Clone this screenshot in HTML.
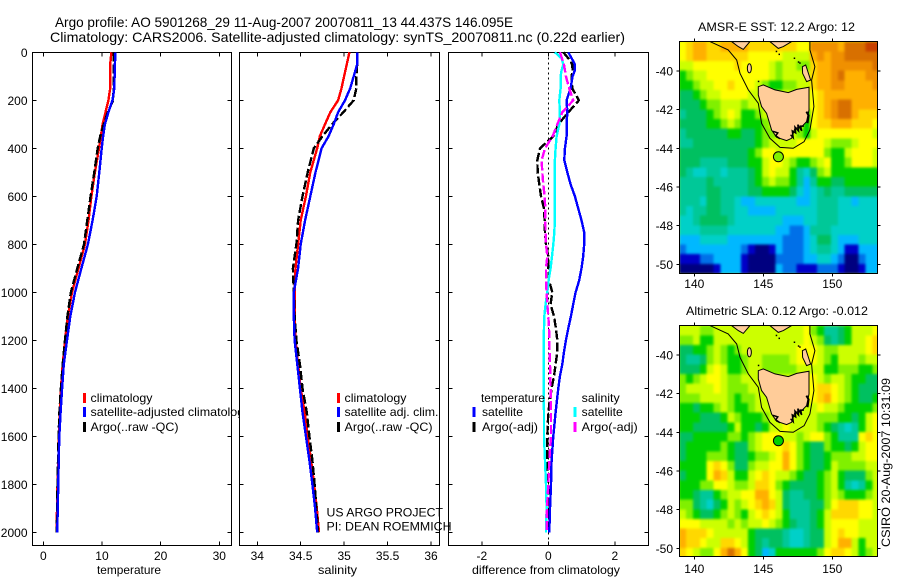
<!DOCTYPE html>
<html lang="en">
<head>
<meta charset="utf-8">
<title>Argo profile chart</title>
<style>
html,body{margin:0;padding:0;background:#fff;}
svg{display:block;}
text{font-family:"Liberation Sans",sans-serif;font-size:12px;fill:#000;}
.ttl{font-size:14px;}
</style>
</head>
<body>
<svg id="chart" width="900" height="580" viewBox="0 0 900 580" xmlns="http://www.w3.org/2000/svg">
<defs>
<filter id="cell-smooth" x="-5%" y="-5%" width="110%" height="110%" color-interpolation-filters="sRGB"><feGaussianBlur stdDeviation="1.3" edgeMode="duplicate"/></filter>
<clipPath id="temp-legend-clip"><rect x="0" y="380" width="239" height="60"/></clipPath>
</defs>
<rect x="0" y="0" width="900" height="580" fill="#fff"/>
<text class="ttl" x="55" y="27" textLength="458" lengthAdjust="spacingAndGlyphs">Argo profile: AO 5901268_29 11-Aug-2007 20070811_13 44.437S 146.095E</text>
<text class="ttl" x="50" y="42" textLength="575" lengthAdjust="spacingAndGlyphs">Climatology: CARS2006. Satellite-adjusted climatology: synTS_20070811.nc (0.22d earlier)</text>
<text x="698" y="31" textLength="157" lengthAdjust="spacingAndGlyphs">AMSR-E SST: 12.2 Argo: 12</text>
<text x="686" y="315" textLength="182" lengthAdjust="spacingAndGlyphs">Altimetric SLA: 0.12 Argo: -0.012</text>
<text transform="translate(890,547) rotate(-90)" x="0" y="0" textLength="169" lengthAdjust="spacingAndGlyphs">CSIRO 20-Aug-2007 10:31:09</text>
<g id="panels"></g>
<g id="maps"></g>
<g id="overlay"></g>
</svg>
<script>
const depths = [0,50,100,150,200,250,300,350,400,500,600,700,800,900,1000,1100,1200,1300,1400,1500,1600,1700,1800,1900,2000];
const tempClim = [11.6,11.4,11.4,11.4,11.1,10.6,10.1,9.8,9.5,8.8,8.2,7.7,7.1,6.0,4.9,4.2,3.7,3.3,3.0,2.8,2.67,2.55,2.42,2.33,2.28];
const tempSatAdj = [12.3,12.2,12.15,12.1,11.8,11.1,10.5,10.2,9.95,9.55,9.1,8.4,7.6,6.5,5.4,4.6,4.04,3.5,3.2,2.95,2.73,2.62,2.55,2.45,2.38];
const tempArgoRaw = [12.0,12.0,12.0,12.0,11.9,11.0,10.3,9.7,9.27,8.7,8.07,7.5,6.93,5.8,4.7,4.1,3.7,3.3,3.0,2.75,2.6,2.5,2.42,2.35,2.3];
const salClim = [35.06,35.03,35.0,34.97,34.93,34.84,34.78,34.72,34.69,34.61,34.56,34.5,34.47,34.44,34.43,34.43,34.44,34.47,34.5,34.546,34.58,34.62,34.654,34.685,34.71];
const salSatAdj = [35.15,35.15,35.11,35.07,35.01,34.93,34.88,34.82,34.74,34.67,34.61,34.55,34.5,34.47,34.42,34.42,34.43,34.46,34.49,34.52,34.56,34.6,34.635,34.665,34.69];
const salArgoRaw = [35.15,35.15,35.14,35.14,35.11,34.99,34.86,34.75,34.65,34.58,34.52,34.47,34.45,34.41,34.42,34.43,34.45,34.49,34.52,34.57,34.6,34.635,34.66,34.68,34.7];
const diffDepths = [0,25,50,75,100,150,200,250,300,350,400,450,500,550,600,650,700,750,800,850,900,950,1000,1050,1100,1150,1200,1250,1300,1350,1400,1500,1600,1700,1800,1900,2000];
const diffTempSat = [.6,.7,.8,.8,.73,.67,.55,.57,.55,.55,.5,.48,.57,.67,.8,.9,1.0,1.08,1.08,1.05,1.0,.93,.82,.75,.68,.6,.53,.47,.42,.35,.3,.22,.15,.1,.08,.05,.03];
const diffTempArgo = [.45,.6,.72,.73,.7,.72,.92,.6,.3,.15,-.25,-.33,-.32,-.27,-.22,-.13,-.11,-.1,-.07,0,0,.02,.12,.07,.17,.23,.27,.27,.22,.17,.1,0,-.03,-.03,.01,.03,.03];
const diffSalSat = [.2,.4,.45,.4,.37,.37,.33,.35,.33,.25,.22,.2,.19,.2,.2,.2,.2,.18,.15,.11,.07,.01,-.03,-.08,-.12,-.13,-.14,-.14,-.14,-.14,-.14,-.13,-.13,-.1,-.07,-.05,-.07];
const diffSalArgo = [.35,.41,.47,.5,.53,.63,.75,.42,.27,.13,-.1,-.2,-.18,-.15,-.11,-.09,-.09,-.08,-.07,-.03,-.07,-.07,-.05,-.03,0,.02,.03,.04,.05,.06,.07,.08,.08,.03,0,-.04,-.05];
const depthTicks = [0,200,400,600,800,1000,1200,1400,1600,1800,2000];
const tempTicks = [0,10,20,30];
const salTicks = [34,34.5,35,35.5,36];
const diffTicks = [-2,0,2];
const lonTicks = [140,145,150];
const latTicks = [-40,-42,-44,-46,-48,-50];
const sstGrid = [
[10,11,12,12,11,11,12,12,12,12,11,11,11,11,11,11,11,10,10,13,13,13,13,12,14,14,14,15,15],
[10,11,12,12,11,11,11,11,11,11,10,10,10,10,10,9,9,9,9,12,13,12,13,13,14,14,14,14,14],
[9,9,10,10,10,10,10,10,11,10,10,10,10,9,8,9,9,8,8,11,12,12,13,13,13,13,13,13,14],
[7,8,9,9,10,10,10,10,10,10,10,10,10,9,8,9,9,9,9,11,12,12,13,14,12,12,12,13,13],
[7,7,8,9,9,10,10,11,10,10,10,9,8,7,7,8,8,9,9,11,12,12,13,13,12,12,12,12,13],
[6,6,7,8,9,9,10,10,10,10,9,9,9,9,9,9,9,9,9,10,11,12,12,12,12,12,12,12,12],
[6,6,6,7,8,8,9,9,9,8,9,9,9,9,9,9,9,9,9,10,11,12,13,14,14,12,12,12,12],
[5,6,6,6,7,8,9,10,9,7,7,8,9,9,9,9,9,9,7,10,11,12,13,14,14,12,11,11,11],
[6,6,6,6,7,7,8,9,8,7,7,7,8,9,9,9,9,9,7,10,11,11,12,12,12,11,11,11,10],
[5,6,6,6,6,6,6,7,7,6,6,7,8,8,9,9,9,8,7,9,10,10,10,10,10,10,10,10,9],
[5,5,6,6,6,6,6,6,6,6,6,7,8,9,9,9,9,10,10,10,10,9,8,8,8,9,10,10,10],
[6,6,6,6,6,6,6,6,6,6,7,8,10,10,9,10,10,10,10,10,10,8,7,7,9,10,10,10,9],
[6,6,6,5,5,5,5,6,6,6,7,7,9,10,10,9,8,7,7,8,9,10,7,7,8,10,10,10,9],
[6,5,4,4,5,5,4,5,5,5,6,7,9,10,9,9,7,5,4,6,8,9,7,7,7,7,7,7,7],
[5,5,5,5,6,5,5,5,5,5,6,7,8,9,8,8,7,5,3,5,7,7,6,6,7,7,7,7,7],
[5,5,5,5,6,6,5,5,5,5,6,6,7,7,7,7,6,4,3,4,5,6,5,5,6,6,6,6,6],
[5,5,5,4,6,6,5,5,4,3,3,4,4,4,4,4,4,3,3,4,5,5,5,4,4,3,4,4,4],
[5,4,5,5,6,6,5,5,4,4,3,3,3,3,4,4,4,4,4,4,5,5,5,4,4,4,4,4,4],
[4,4,5,6,6,6,6,5,4,4,4,4,4,4,4,3,3,3,4,4,5,5,5,4,4,4,4,4,4],
[4,4,4,5,5,5,5,4,4,4,4,4,4,4,3,3,2,2,3,5,5,5,4,4,4,4,4,4,4],
[3,3,3,4,4,4,4,3,3,3,3,3,3,3,3,2,2,2,3,4,6,6,4,3,3,3,4,4,4],
[2,3,3,3,3,3,3,3,3,2,1,0,0,1,3,2,2,2,3,4,5,5,4,3,1,1,3,3,3],
[1,1,1,2,2,3,3,3,3,1,0,0,0,0,2,2,2,2,3,3,4,4,3,2,0,0,2,3,3],
[0,0,0,0,0,1,3,3,3,1,0,0,0,0,3,2,2,1,1,1,2,2,2,1,0,0,1,3,3]
];
const slaGrid = [
[9,9,9,8,8,9,9,9,9,9,9,9,9,9,9,9,9,9,10,8,7,5,5,6,7,9,9,9,10],
[8,8,9,7,7,9,9,9,9,9,9,9,9,9,9,9,9,9,10,9,8,6,5,6,7,9,9,10,11],
[6,6,7,7,8,9,8,7,8,9,9,9,9,9,9,9,9,10,10,10,9,8,8,9,9,9,9,10,11],
[6,5,5,6,8,9,8,7,7,8,9,9,8,8,8,8,9,10,10,10,9,8,7,9,9,9,8,9,9],
[6,6,6,7,9,10,9,7,7,8,9,9,8,8,8,8,8,9,9,9,9,7,7,8,8,8,7,7,8],
[8,7,8,9,10,10,9,8,8,9,9,9,9,9,9,9,9,9,10,10,9,8,9,9,8,7,7,6,6],
[8,9,9,9,9,10,9,8,8,8,9,9,9,9,9,9,9,9,10,10,11,11,10,9,8,7,6,6,6],
[8,8,8,9,9,9,9,8,7,8,8,9,9,9,9,9,9,9,10,10,11,12,10,9,8,7,6,6,7],
[7,7,6,7,7,8,9,8,7,7,8,9,9,9,9,9,9,9,9,9,10,9,9,8,7,7,7,7,8],
[7,7,7,6,6,6,7,9,8,7,7,7,8,9,9,9,9,9,9,9,8,8,8,7,7,6,7,9,10],
[7,7,6,6,6,6,6,7,9,7,7,6,7,9,9,10,9,9,9,9,8,7,6,5,4,5,7,9,10],
[6,6,7,7,7,7,7,8,8,7,8,9,10,10,10,9,9,8,9,10,10,8,7,5,5,5,10,11,10],
[6,7,7,7,7,7,8,7,6,6,8,9,10,10,10,11,10,8,7,6,6,8,7,7,6,7,9,10,10],
[6,7,7,7,8,8,8,7,6,6,7,8,8,9,10,12,10,8,7,6,6,7,8,8,8,9,9,10,10],
[7,7,7,7,10,11,10,8,6,6,8,9,9,10,10,12,10,8,7,6,6,7,9,8,8,8,8,9,9],
[6,7,7,7,10,12,11,9,7,7,9,10,11,10,9,9,8,7,6,6,7,8,9,7,6,6,6,8,9],
[7,7,7,8,8,10,10,9,8,8,9,11,11,10,8,7,6,6,6,6,7,8,9,7,5,4,5,7,9],
[7,7,6,5,5,7,8,9,9,10,10,12,12,10,9,6,5,5,6,6,7,8,9,8,7,7,7,8,9],
[8,8,6,5,4,6,7,9,8,9,10,11,12,11,9,6,5,5,5,6,6,8,10,11,11,11,10,10,9],
[9,8,7,6,6,7,8,9,8,7,9,10,11,10,9,7,5,5,5,6,7,9,11,11,11,11,10,10,9],
[10,10,10,9,9,9,9,8,9,8,9,9,10,9,8,7,6,5,5,6,7,9,10,10,10,10,9,9,9],
[12,11,11,11,10,9,9,9,9,9,7,6,6,6,6,5,4,4,5,6,6,9,10,11,10,10,9,9,9],
[12,11,11,10,9,9,11,11,10,9,7,6,5,6,6,5,4,4,5,6,6,9,10,12,12,9,7,9,9],
[11,10,9,8,8,10,12,14,12,10,7,6,3,4,7,7,7,7,7,7,8,10,11,11,10,9,7,8,9]
];
const levelColors = ['#000080','#0000c8','#0070e8','#00b8ff','#00d0c8','#00c898','#00c060','#00d000','#80f000','#ccff00','#ffff00','#ffd800','#ffb000','#f09000','#d87000','#c84000'];
const tasmaniaLon = [144.64,145.0,145.85,146.81,147.42,148.31,148.31,148.14,147.78,147.29,147.05,146.69,145.97,145.6,145.24,144.88,144.64];
const tasmaniaLat = [-40.81,-40.72,-40.98,-41.12,-40.95,-40.84,-42.02,-42.62,-42.88,-42.97,-43.48,-43.6,-43.43,-43.05,-42.19,-41.84,-41.24];
const otwayLon = [142.7,144.03,143.55,143.19];
const otwayLat = [-38.48,-38.48,-38.88,-38.74];
const wilsonsLon = [145.48,147.05,146.45,146.09];
const wilsonsLat = [-38.48,-38.48,-38.74,-38.83];
const flindersLon = [147.83,148.07,148.31,148.43,148.14,147.85];
const flindersLat = [-39.78,-39.69,-40.21,-40.47,-40.55,-40.12];
const seCoastLon = [146.98,147.17,147.1,147.35,147.3,147.55,147.5,147.78,147.7,147.94];
const seCoastLat = [-43.3,-43.45,-43.1,-43.2,-42.9,-43.1,-42.78,-43.1,-42.85,-42.85];
const swCoastLon = [145.7,146.05,145.9,146.2];
const swCoastLat = [-43.12,-43.2,-43.35,-43.5];
const eastCoastLon = [148.12,148.28,148.2];
const eastCoastLat = [-42.1,-42.3,-42.7];
const isletLon = [145.9,146.1,147.2,147.5,147.6,144.6];
const isletLat = [-38.95,-39.1,-39.3,-39.5,-39.55,-40.5];
const isobathLon = [141.14,142.46,143.07,143.31,143.91,144.64,144.88,145.48,146.21,147.17,147.96,148.38,148.67,148.5,148.74,148.38,148.38];
const isobathLat = [-38.48,-38.91,-39.43,-40.12,-40.98,-41.67,-42.71,-43.48,-43.95,-44.0,-43.66,-43.05,-41.84,-40.47,-39.78,-38.91,-38.48];
const floatLon = [146.095];
const floatLat = [-44.437];
const floatSstLevel = [8];
const floatSlaLevel = [7];

const NS = 'http://www.w3.org/2000/svg';
const panelsG = document.getElementById('panels');
const mapsG = document.getElementById('maps');
const overlayG = document.getElementById('overlay');
function make(tag, attrs, parent) {
  const e = document.createElementNS(NS, tag);
  for (const k in attrs) e.setAttribute(k, attrs[k]);
  parent.appendChild(e);
  return e;
}
const TOP = 52.5, BOTTOM = 545.5;
function yDepth(d) { return 52.3 + d * 0.24; }
function linScale(v0, p0, v1, p1) { return v => p0 + (v - v0) * (p1 - p0) / (v1 - v0); }
const xTemp = linScale(0, 43.3, 30, 219.3);
const xSal = linScale(34, 257.3, 36, 431);
const xDiff = linScale(0, 548.3, 2, 614.8);

function drawPanel(name, left, right, xScale, xTicks, showDepthLabels) {
  const frame = make('rect', {x:left, y:TOP, width:right-left, height:BOTTOM-TOP, fill:'#fff', stroke:'#000', 'stroke-width':1, 'shape-rendering':'crispEdges'}, panelsG);
  
  
  xTicks.forEach(t => {
    const x = xScale(t);
    const top = make('line', {x1:x, x2:x, y1:TOP, y2:TOP+4, stroke:'#000', 'shape-rendering':'crispEdges'}, panelsG);
    
    
    const bot = make('line', {x1:x, x2:x, y1:BOTTOM-4, y2:BOTTOM, stroke:'#000', 'shape-rendering':'crispEdges'}, panelsG);
    
    
    const lab = make('text', {x:x, y:560, 'text-anchor':'middle'}, panelsG);
    lab.textContent = String(t);
    
    
  });
  depthTicks.forEach(d => {
    const y = yDepth(d);
    const l = make('line', {x1:left, x2:left+4, y1:y, y2:y, stroke:'#000', 'shape-rendering':'crispEdges'}, panelsG);
    
    
    const r = make('line', {x1:right-4, x2:right, y1:y, y2:y, stroke:'#000', 'shape-rendering':'crispEdges'}, panelsG);
    
    
    if (showDepthLabels) {
      const lab = make('text', {x:27.5, y:y+4.5, 'text-anchor':'end'}, panelsG);
      lab.textContent = String(d);
      
      
    }
  });
}
function drawSeries(name, ds, vals, xScale, color, dashed) {
  const pts = ds.map((d, i) => xScale(vals[i]).toFixed(1) + ',' + yDepth(d).toFixed(1)).join(' ');
  const attrs = {points:pts, fill:'none', stroke:color, 'stroke-width':2.4, 'shape-rendering':'crispEdges'};
  if (dashed) attrs['stroke-dasharray'] = '9 3';
  const line = make('polyline', attrs, panelsG);
  
  
}
function legendEntry(name, tickX, textX, tickY, baseY, color, label, labelWidth, clipId) {
  if (color) {
    const t = make('rect', {x:tickX-1, y:tickY, width:3, height:10, fill:color, 'shape-rendering':'crispEdges'}, overlayG);
    
    
  }
  const attrs = {x:textX, y:baseY, textLength:labelWidth, lengthAdjust:'spacingAndGlyphs'};
  if (clipId) attrs['clip-path'] = 'url(#' + clipId + ')';
  const txt = make('text', attrs, overlayG);
  txt.textContent = label;
  
  
}

drawPanel('temperature-panel', 32.5, 231.5, xTemp, tempTicks, true);
drawSeries('temperature-climatology-line', depths, tempClim, xTemp, '#ff0000', false);
drawSeries('temperature-argo-line', depths, tempArgoRaw, xTemp, '#000000', true);
drawSeries('temperature-satellite-line', depths, tempSatAdj, xTemp, '#0000ff', false);
legendEntry('temp-legend-climatology', 84, 90.5, 393, 402, '#ff0000', 'climatology', 62);
legendEntry('temp-legend-satellite', 84, 90.5, 407, 416, '#0000ff', 'satellite-adjusted climatology', 160, 'temp-legend-clip');
legendEntry('temp-legend-argo', 84, 90.5, 422, 431, '#000000', 'Argo(..raw -QC)', 88);

const xlabelT = make('text', {x:97, y:574, textLength:64, lengthAdjust:'spacingAndGlyphs'}, panelsG);
xlabelT.textContent = 'temperature';


const xlabelS = make('text', {x:318, y:574, textLength:39, lengthAdjust:'spacingAndGlyphs'}, panelsG);
xlabelS.textContent = 'salinity';


const xlabelD = make('text', {x:472, y:574, textLength:148, lengthAdjust:'spacingAndGlyphs'}, panelsG);
xlabelD.textContent = 'difference from climatology';



drawPanel('salinity-panel', 239.5, 439.5, xSal, salTicks, false);
drawSeries('salinity-climatology-line', depths, salClim, xSal, '#ff0000', false);
drawSeries('salinity-argo-line', depths, salArgoRaw, xSal, '#000000', true);
drawSeries('salinity-satellite-line', depths, salSatAdj, xSal, '#0000ff', false);
legendEntry('sal-legend-climatology', 338, 344.5, 393, 402, '#ff0000', 'climatology', 62);
legendEntry('sal-legend-satellite', 338, 344.5, 407, 416, '#0000ff', 'satellite adj. clim.', 94);
legendEntry('sal-legend-argo', 338, 344.5, 422, 431, '#000000', 'Argo(..raw -QC)', 88);
legendEntry('project-credit', 0, 326.5, 0, 516.5, null, 'US ARGO PROJECT', 116.5);
legendEntry('pi-credit', 0, 326.5, 0, 530.5, null, 'PI: DEAN ROEMMICH', 125);

drawPanel('difference-panel', 448.5, 648.5, xDiff, diffTicks, false);
const zeroLine = make('line', {x1:xDiff(0), x2:xDiff(0), y1:TOP, y2:BOTTOM, stroke:'#000', 'stroke-dasharray':'2 3', 'shape-rendering':'crispEdges'}, panelsG);


drawSeries('difference-temp-argo-line', diffDepths, diffTempArgo, xDiff, '#000000', true);
drawSeries('difference-temp-satellite-line', diffDepths, diffTempSat, xDiff, '#0000ff', false);
drawSeries('difference-sal-satellite-line', diffDepths, diffSalSat, xDiff, '#00ffff', false);
drawSeries('difference-sal-argo-line', diffDepths, diffSalArgo, xDiff, '#ff00ff', true);
legendEntry('diff-legend-temperature-heading', 0, 481, 0, 402, null, 'temperature', 64);
legendEntry('diff-legend-temp-satellite', 473.7, 482, 407, 416, '#0000ff', 'satellite', 41);
legendEntry('diff-legend-temp-argo', 473.7, 482, 422, 431, '#000000', 'Argo(-adj)', 56);
legendEntry('diff-legend-salinity-heading', 0, 581.7, 0, 402, null, 'salinity', 38);
legendEntry('diff-legend-sal-satellite', 574.3, 581.7, 407, 416, '#00ffff', 'satellite', 41);
legendEntry('diff-legend-sal-argo', 574.3, 581.7, 422, 431, '#ff00ff', 'Argo(-adj)', 56);

const xLon = linScale(140, 694.3, 150, 832.3);
function drawMap(name, grid, markerLevel, frameTop, frameBottom, lat40Y, lat50Y, labelBase) {
  const yLat = linScale(-40, lat40Y, -50, lat50Y);
  const left = 679.5, right = 877.5;
  const g = make('g', {}, mapsG);
  
  
  const clip = make('clipPath', {id:name + '-clip'}, g);
  make('rect', {x:left, y:frameTop, width:right-left, height:frameBottom-frameTop}, clip);
  const inner = make('g', {'clip-path':'url(#' + name + '-clip)'}, g);
  const bg = make('rect', {x:left, y:frameTop, width:right-left, height:frameBottom-frameTop, fill:levelColors[9]}, inner);
  
  
  const cellsG = make('g', {filter:'url(#cell-smooth)'}, inner);
  
  
  const lon0 = 138.9, lat0 = -38.48, step = 0.5;
  grid.forEach((row, r) => {
    row.forEach((val, c) => {
      const x0 = xLon(lon0 + c * step), x1 = xLon(lon0 + (c + 1) * step);
      const y0 = yLat(lat0 - r * step), y1 = yLat(lat0 - (r + 1) * step);
      const cell = make('rect', {x:x0.toFixed(1), y:y0.toFixed(1), width:(x1-x0+0.6).toFixed(1), height:(y1-y0+0.6).toFixed(1), fill:levelColors[val], 'shape-rendering':'crispEdges'}, cellsG);
      
      
    });
  });
  function pts(lons, lats) {
    return lons.map((lo, i) => xLon(lo).toFixed(1) + ',' + yLat(lats[i]).toFixed(1)).join(' ');
  }
  function poly(label, lons, lats) {
    const p = make('polygon', {points:pts(lons, lats), fill:'#ffcc99', stroke:'#000', 'stroke-width':1}, inner);
    
    
  }
  poly(name + '-tasmania-land', tasmaniaLon, tasmaniaLat);
  poly(name + '-cape-otway-land', otwayLon, otwayLat);
  poly(name + '-wilsons-land', wilsonsLon, wilsonsLat);
  poly(name + '-flinders-island', flindersLon, flindersLat);
  const se = make('polyline', {points:pts(seCoastLon, seCoastLat), fill:'none', stroke:'#000', 'stroke-width':1.5}, inner);
  
  
  const sw = make('polyline', {points:pts(swCoastLon, swCoastLat), fill:'none', stroke:'#000', 'stroke-width':1.5}, inner);
  
  
  const ec = make('polyline', {points:pts(eastCoastLon, eastCoastLat), fill:'none', stroke:'#000', 'stroke-width':2}, inner);
  
  
  isletLon.forEach((lo, i) => {
    const dot = make('rect', {x:xLon(lo).toFixed(1), y:yLat(isletLat[i]).toFixed(1), width:1.5, height:1.5, fill:'#000'}, inner);
    
    
  });
  const king = make('ellipse', {cx:xLon(143.99), cy:yLat(-39.86), rx:2, ry:4.6, fill:'#ffcc99', stroke:'#000'}, inner);
  
  
  const iso = make('polyline', {points:pts(isobathLon, isobathLat), fill:'none', stroke:'#000', 'stroke-width':1}, inner);
  
  
  const marker = make('circle', {cx:xLon(floatLon[0]), cy:yLat(floatLat[0]), r:5, fill:levelColors[markerLevel[0]], stroke:'#000'}, inner);
  
  
  const frame = make('rect', {x:left, y:frameTop, width:right-left, height:frameBottom-frameTop, fill:'none', stroke:'#000', 'shape-rendering':'crispEdges'}, g);
  
  
  lonTicks.forEach(t => {
    const x = xLon(t);
    const a = make('line', {x1:x, x2:x, y1:frameTop-3, y2:frameTop, stroke:'#000', 'shape-rendering':'crispEdges'}, g);
    
    
    const b = make('line', {x1:x, x2:x, y1:frameBottom, y2:frameBottom+3, stroke:'#000', 'shape-rendering':'crispEdges'}, g);
    
    
    const lab = make('text', {x:x, y:labelBase, 'text-anchor':'middle'}, g);
    lab.textContent = String(t);
    
    
  });
  latTicks.forEach(t => {
    const y = yLat(t);
    const a = make('line', {x1:left-3, x2:left, y1:y, y2:y, stroke:'#000', 'shape-rendering':'crispEdges'}, g);
    
    
    const b = make('line', {x1:right, x2:right+3, y1:y, y2:y, stroke:'#000', 'shape-rendering':'crispEdges'}, g);
    
    
    const lab = make('text', {x:673, y:y+4.5, 'text-anchor':'end'}, g);
    lab.textContent = String(t);
    
    
  });
}
drawMap('sst-map', sstGrid, floatSstLevel, 41.5, 273.5, 71, 264.3, 288);
drawMap('sla-map', slaGrid, floatSlaLevel, 325.5, 556.5, 355, 548.3, 573);
</script>
</body>
</html>
